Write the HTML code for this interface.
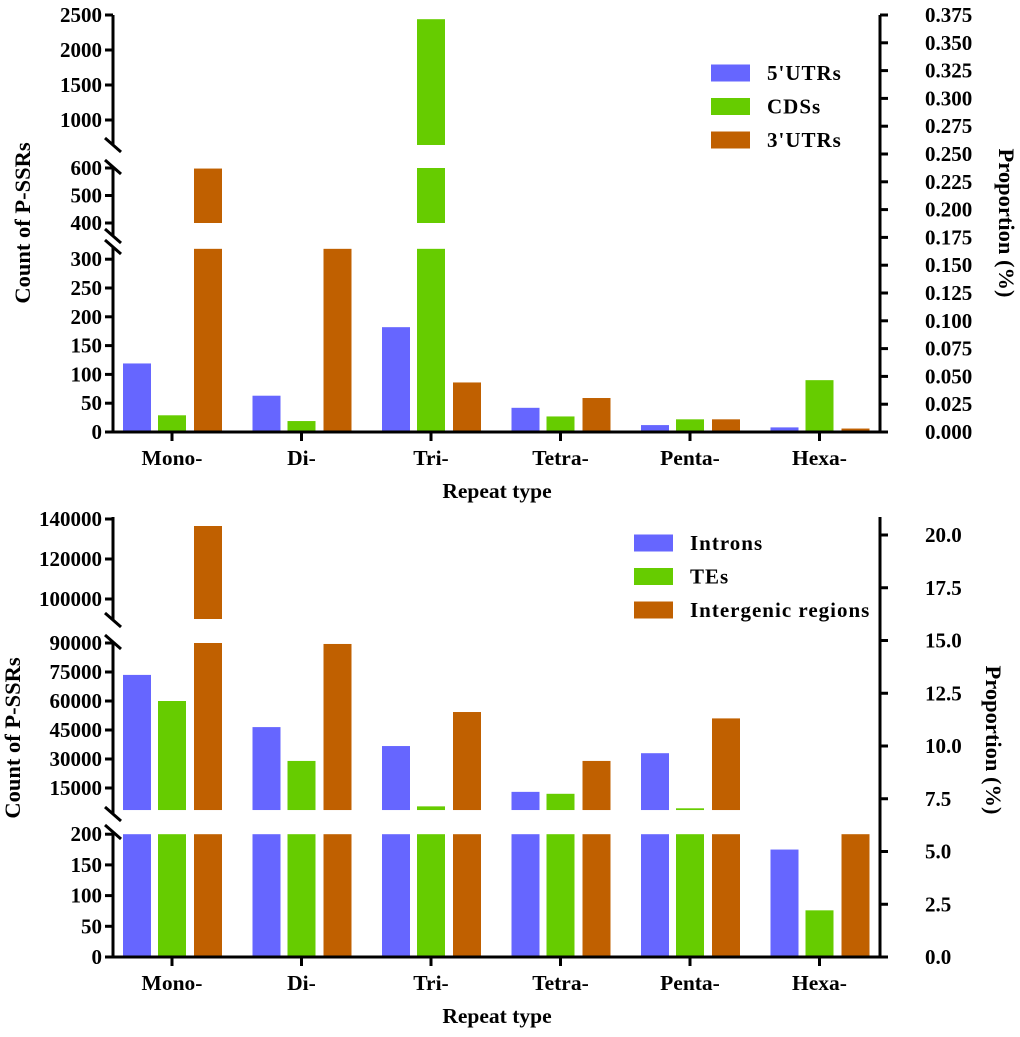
<!DOCTYPE html>
<html><head><meta charset="utf-8"><style>
html,body{margin:0;padding:0;background:#fff;}
svg{display:block;font-family:"Liberation Serif",serif;font-weight:bold;}
</style></head><body>
<svg id="chart" width="1020" height="1037" viewBox="0 0 1020 1037" xmlns="http://www.w3.org/2000/svg"></svg>
<script>
const categories = ["Mono-","Di-","Tri-","Tetra-","Penta-","Hexa-"];
const topSeriesNames = ["5'UTRs","CDSs","3'UTRs"];
const top5UTR = [119, 63, 182, 42, 12, 8];
const topCDS = [29, 19, 2440, 27, 22, 90];
const top3UTR = [598, 340, 86, 59, 22, 6];
const botSeriesNames = ["Introns","TEs","Intergenic regions"];
const botIntrons = [73500, 46500, 36700, 13000, 33000, 175];
const botTEs = [60000, 29000, 5500, 12000, 4500, 76];
const botInter = [136500, 89500, 54300, 29000, 51000, 1500];
const topLeftTicks = [[0,50,100,150,200,250,300],[400,500,600],[1000,1500,2000,2500]];
const topRightTicks = ["0.000","0.025","0.050","0.075","0.100","0.125","0.150","0.175","0.200","0.225","0.250","0.275","0.300","0.325","0.350","0.375"];
const botLeftTicks = [[0,50,100,150,200],[15000,30000,45000,60000,75000,90000],[100000,120000,140000]];
const botRightTicks = ["0.0","2.5","5.0","7.5","10.0","12.5","15.0","17.5","20.0"];

const NS="http://www.w3.org/2000/svg";
const svg=document.getElementById('chart');
const colors=["#6666ff","#66cc00","#c06000"];
function mk(tag,attrs,parent){const e=document.createElementNS(NS,tag);for(const k in attrs)e.setAttribute(k,attrs[k]);(parent||svg).appendChild(e);return e;}
const X0=113, X1=880;
function xCat(i){return 172+i*129.5;}
const offs=[-35,0,36];

function drawPanel(cfg){
  const g=mk('g',{});
  
  
  const segs=cfg.segs;
  function yOf(seg,v){return seg.p0-(v-seg.v0)*seg.k;}
  cfg.series.forEach((arr,s)=>{
    arr.forEach((v,i)=>{
      segs.forEach((seg,si)=>{
        if(v<=seg.min) return;
        const lo=Math.max(seg.min,0), hi=Math.min(v,seg.max);
        const y1=yOf(seg,lo), y2=yOf(seg,hi);
        const r=mk('rect',{x:xCat(i)+offs[s]-14,y:y2,width:28,height:Math.max(0,y1-y2),fill:colors[s]},g);
        
        
      });
    });
  });
  cfg.axisSegs.forEach(a=>{mk('line',{x1:X0,y1:a[0],x2:X0,y2:a[1],stroke:'#000','stroke-width':3},g);});
  cfg.slashes.forEach(y=>{mk('line',{x1:X0-8,y1:y-7,x2:X0+8,y2:y+7,stroke:'#000','stroke-width':3},g);});
  segs.forEach((seg,si)=>{
    cfg.leftTicks[si].forEach(t=>{
      const y=yOf(seg,t);
      mk('line',{x1:X0-8,y1:y,x2:X0,y2:y,stroke:'#000','stroke-width':3},g);
      const tx=mk('text',{x:X0-11,y:y+7,'text-anchor':'end','font-size':21},g);tx.textContent=t;
      
      
    });
  });
  mk('line',{x1:X0-1.5,y1:cfg.base,x2:X1+1.5,y2:cfg.base,stroke:'#000','stroke-width':3},g);
  categories.forEach((c,i)=>{
    mk('line',{x1:xCat(i),y1:cfg.base,x2:xCat(i),y2:cfg.base+9,stroke:'#000','stroke-width':3},g);
    const t=mk('text',{x:xCat(i),y:cfg.base+33,'text-anchor':'middle','font-size':21.5},g);t.textContent=c;
    
    
  });
  const xt=mk('text',{x:497,y:cfg.base+66,'text-anchor':'middle','font-size':21.5},g);xt.textContent="Repeat type";
  
  
  mk('line',{x1:X1,y1:cfg.rTop,x2:X1,y2:cfg.base+1.5,stroke:'#000','stroke-width':3},g);
  const n=cfg.rightTicks.length;
  cfg.rightTicks.forEach((t,i)=>{
    const y=cfg.base-(cfg.base-cfg.rTopTick)*i/(n-1);
    mk('line',{x1:X1,y1:y,x2:X1+8,y2:y,stroke:'#000','stroke-width':3},g);
    const tx=mk('text',{x:925,y:y+7,'font-size':21},g);tx.textContent=t;
    
    
  });
  const ly=mk('text',{transform:`translate(${cfg.lTitle[0]},${cfg.lTitle[1]}) rotate(-90)`,'text-anchor':'middle','font-size':22.5},g);ly.textContent="Count of P-SSRs";
  
  
  const ry=mk('text',{transform:`translate(${cfg.rTitle[0]},${cfg.rTitle[1]}) rotate(90)`,'text-anchor':'middle','font-size':22.5},g);ry.textContent="Proportion (%)";
  
  
  cfg.names.forEach((nm,s)=>{
    const y=cfg.leg[1]+s*33.5;
    const sw=mk('rect',{x:cfg.leg[0],y:y-8.5,width:39,height:17,fill:colors[s]},g);
    
    
    const t=mk('text',{x:cfg.leg[0]+56,y:y+7,'font-size':21,'letter-spacing':'1'},g);t.textContent=nm;
    
    
  });
}

drawPanel({name:'top-chart',key:'top',base:432,
  segs:[{v0:0,p0:432,k:0.576,min:0,max:318},{v0:400,p0:223,k:0.275,min:400,max:600},{v0:1000,p0:120,k:0.07,min:643,max:2500}],
  series:[top5UTR,topCDS,top3UTR],
  axisSegs:[[15,145],[167,236],[247,433]],slashes:[145,167,236,247],
  leftTicks:topLeftTicks,rightTicks:topRightTicks,rTop:15,rTopTick:15,
  lTitle:[30,223],rTitle:[999,223],leg:[711,73],names:topSeriesNames});
drawPanel({name:'bottom-chart',key:'bottom',base:957,
  segs:[{v0:0,p0:957,k:0.614,min:0,max:200},{v0:90000,p0:643,k:29/15000,min:3600,max:90000},{v0:140000,p0:519,k:0.002,min:90000,max:140000}],
  series:[botIntrons,botTEs,botInter],
  axisSegs:[[517,620],[642,814],[832,958]],slashes:[620,642,814,832],
  leftTicks:botLeftTicks,rightTicks:botRightTicks,rTop:517,rTopTick:535,
  lTitle:[20,738],rTitle:[986,740],leg:[634,543],names:botSeriesNames});
</script>
</body></html>
